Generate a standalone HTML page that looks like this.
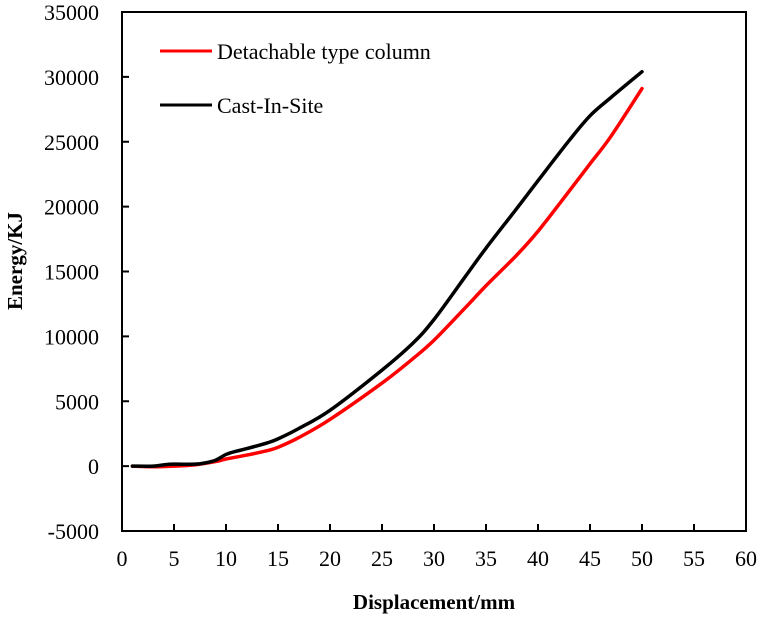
<!DOCTYPE html>
<html><head><meta charset="utf-8"><style>
body{margin:0;background:#fff}
svg text{font-family:"Liberation Serif",serif;fill:#000}
</style></head><body>
<svg id="chart" width="761" height="617" xmlns="http://www.w3.org/2000/svg">
<rect x="122" y="12" width="624" height="519" fill="none" stroke="#000" stroke-width="2"/>
<g id="axes"></g>
<g id="series"></g>
<text x="10" y="0" transform="translate(22,271) rotate(-90)" text-anchor="middle" font-size="21" font-weight="bold">Energy/KJ</text>
<text x="434" y="609" text-anchor="middle" font-size="21" font-weight="bold">Displacement/mm</text>
<g>
<line x1="160" y1="51" x2="212" y2="51" stroke="#f00" stroke-width="3"/>
<text x="217" y="59" font-size="22">Detachable type column</text>
<line x1="160" y1="105" x2="212" y2="105" stroke="#000" stroke-width="3"/>
<text x="217" y="113" font-size="22">Cast-In-Site</text>
</g>
</svg>
<script>
const xTicks=[0,5,10,15,20,25,30,35,40,45,50,55,60];
const yTicks=[-5000,0,5000,10000,15000,20000,25000,30000,35000];
const castX=[1,3,4,5,7,8,9,10,11,12,14,15,17,20,25,28,30,33,35,38,40,43,45,47,50];
const castY=[0,0,100,150,150,250,450,900,1150,1350,1800,2100,2900,4300,7400,9500,11300,14600,16800,19900,22000,25100,27000,28400,30400];
const detX=[1,3,5,7,9,10,12,14,15,17,20,25,28,30,33,35,38,40,43,45,47,50];
const detY=[0,-50,0,100,350,550,850,1200,1450,2200,3600,6400,8300,9700,12200,13900,16300,18100,21200,23300,25400,29100];
const NS="http://www.w3.org/2000/svg";
const X0=122,X1=746,Y0=531,Y1=12;
function sx(v){return X0+(v-0)/(60-0)*(X1-X0);}
function sy(v){return Y0-(v+5000)/40000*(Y0-Y1);}
const axes=document.getElementById('axes');
xTicks.forEach(t=>{
  if(t>0&&t<60){const l=document.createElementNS(NS,'line');
  l.setAttribute('x1',sx(t));l.setAttribute('x2',sx(t));l.setAttribute('y1',Y0);l.setAttribute('y2',Y0-7);
  l.setAttribute('stroke','#000');l.setAttribute('stroke-width','2');
  
  
  axes.appendChild(l);}
  const tx=document.createElementNS(NS,'text');
  tx.setAttribute('x',sx(t));tx.setAttribute('y',566);tx.setAttribute('text-anchor','middle');tx.setAttribute('font-size','22');
  tx.textContent=t;
  
  
  axes.appendChild(tx);
});
yTicks.forEach(t=>{
  if(t>-5000&&t<35000){const l=document.createElementNS(NS,'line');
  l.setAttribute('x1',X0);l.setAttribute('x2',X0+7);l.setAttribute('y1',sy(t));l.setAttribute('y2',sy(t));
  l.setAttribute('stroke','#000');l.setAttribute('stroke-width','2');
  
  
  axes.appendChild(l);}
  const tx=document.createElementNS(NS,'text');
  tx.setAttribute('x',99);tx.setAttribute('y',sy(t)+8);tx.setAttribute('text-anchor','end');tx.setAttribute('font-size','22');
  tx.textContent=t;
  
  
  axes.appendChild(tx);
});
const ser=document.getElementById('series');
function draw(xs,ys,color,name){
  const pts=xs.map((x,i)=>[sx(x),sy(ys[i])]);
  let d='M'+pts[0][0]+','+pts[0][1];
  for(let i=0;i<pts.length-1;i++){
    const p0=pts[Math.max(0,i-1)],p1=pts[i],p2=pts[i+1],p3=pts[Math.min(pts.length-1,i+2)];
    const c1x=p1[0]+(p2[0]-p0[0])/6,c1y=p1[1]+(p2[1]-p0[1])/6;
    const c2x=p2[0]-(p3[0]-p1[0])/6,c2y=p2[1]-(p3[1]-p1[1])/6;
    d+=' C'+c1x+','+c1y+' '+c2x+','+c2y+' '+p2[0]+','+p2[1];
  }
  const p=document.createElementNS(NS,'path');
  p.setAttribute('d',d);
  p.setAttribute('fill','none');p.setAttribute('stroke',color);p.setAttribute('stroke-width','3.5');
  p.setAttribute('stroke-linejoin','round');p.setAttribute('stroke-linecap','round');
  
  
  ser.appendChild(p);
}
draw(detX,detY,'#f00','detachable-line');
draw(castX,castY,'#000','cast-in-site-line');
</script>
</body></html>
